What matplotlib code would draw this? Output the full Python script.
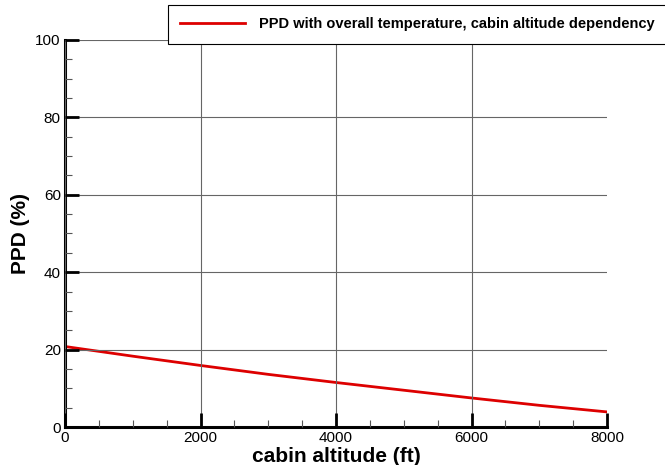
import matplotlib
matplotlib.use('Agg')
import matplotlib.pyplot as plt
from matplotlib.ticker import MultipleLocator

plt.rcParams['font.family'] = ['Liberation Sans', 'DejaVu Sans']

## data ##
altitude_ft = [0, 1000, 2000, 3000, 4000, 5000, 6000, 7000, 8000]
ppd_pct = [20.8, 18.3, 15.9, 13.6, 11.5, 9.5, 7.5, 5.6, 3.9]
series_label = 'PPD with overall temperature, cabin altitude dependency'
x_ticks = [0, 2000, 4000, 6000, 8000]
y_ticks = [0, 20, 40, 60, 80, 100]

fig = plt.figure(figsize=(6.65, 4.65), dpi=100)
ax = fig.add_axes([65 / 665, 38 / 465, 542 / 665, 387 / 465])

line, = ax.plot(altitude_ft, ppd_pct, color='#dd0000', lw=2, label=series_label)

ax.set_xlim(0, 8000)
ax.set_ylim(0, 100)
ax.set_xticks(x_ticks)
ax.set_yticks(y_ticks)
ax.xaxis.set_minor_locator(MultipleLocator(500))
ax.yaxis.set_minor_locator(MultipleLocator(5))
ax.tick_params(which='major', direction='in', length=10, width=2, labelsize=11, pad=3)
ax.tick_params(which='minor', direction='in', length=5, width=0.8, color='#555555')
ax.grid(which='major', color='#666666', lw=0.8)
ax.get_xgridlines()[-1].set_visible(False)
ax.set_axisbelow(False)

for s in ['top', 'right']:
    ax.spines[s].set_visible(False)
for s in ['left', 'bottom']:
    ax.spines[s].set_linewidth(2.2)

ax.set_xlabel('cabin altitude (ft)', fontsize=15, fontweight='bold')
ax.xaxis.set_label_coords(0.5, -0.052)
ax.set_ylabel('PPD (%)', fontsize=15, fontweight='bold', labelpad=4)

leg = fig.legend(handles=[line], loc='upper left', bbox_to_anchor=(168 / 665, 1 - 5 / 465),
                 fancybox=False, framealpha=1, edgecolor='black', handlelength=4.4,
                 prop={'weight': 'bold', 'size': 10.5}, borderpad=0.85, handletextpad=1.0,
                 borderaxespad=0)
leg.get_frame().set_linewidth(0.8)

fig.savefig('out.png', dpi=100)
